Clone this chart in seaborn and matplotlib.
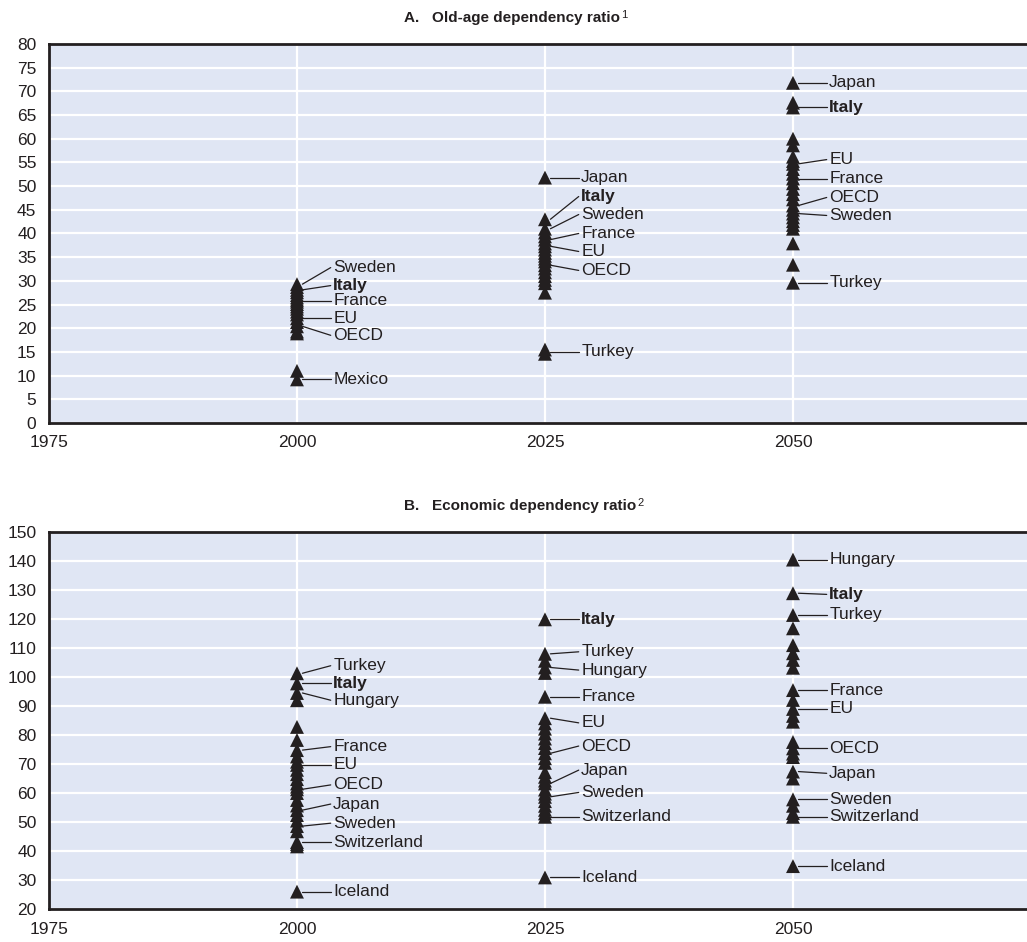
import matplotlib
matplotlib.use("Agg")
import matplotlib.pyplot as plt
import seaborn as sns
import pandas as pd

# ---- data -------------------------------------------------------------
years = [2000, 2025, 2050]

# Panel A: old-age dependency ratio, one value per country/aggregate
old_age_2000 = [29.3, 28.7, 28.1, 27.6, 27.0, 26.5, 26.0, 25.6, 25.1, 24.6,
                24.1, 23.5, 22.9, 22.1, 21.3, 20.4, 19.3, 18.9, 11.0, 9.2]
old_age_2025 = [51.8, 43.0, 41.0, 40.2, 39.4, 38.7, 37.9, 37.3, 36.6, 35.9,
                35.3, 34.7, 34.1, 33.3, 32.6, 31.8, 31.0, 30.2, 29.5, 27.5,
                15.5, 14.6]
old_age_2050 = [71.8, 67.6, 66.6, 60.0, 58.6, 56.2, 55.3, 54.7, 53.6, 52.6,
                51.6, 50.6, 49.4, 48.3, 47.2, 45.9, 45.0, 44.2, 43.4, 42.6,
                41.8, 41.0, 37.9, 33.4, 29.6]

# Panel B: economic dependency ratio
econ_2000 = [101.3, 97.8, 94.5, 92.0, 82.8, 78.3, 74.8, 72.6, 70.8, 69.7,
             68.0, 66.5, 64.8, 63.3, 62.2, 61.3, 60.0, 57.6, 55.7, 54.1,
             52.4, 50.5, 48.6, 46.8, 43.1, 42.4, 41.6, 26.0]
econ_2025 = [119.9, 108.0, 105.6, 103.3, 101.4, 93.2, 85.8, 84.0, 82.2, 80.5,
             78.8, 77.2, 75.5, 73.7, 72.0, 70.4, 67.2, 65.6, 64.3, 63.3,
             61.2, 59.8, 58.7, 57.2, 55.6, 54.2, 53.0, 51.8, 30.9]
econ_2050 = [140.5, 128.9, 121.4, 116.8, 111.0, 108.2, 105.9, 103.2, 95.5, 92.1,
             89.0, 86.6, 84.6, 77.6, 75.4, 73.6, 72.4, 67.4, 65.0, 57.8,
             55.6, 53.1, 51.8, 34.8]

# Labelled countries: (name, label height, value of the marker it points to)
old_age_labels = {
    2000: [("Sweden", 32.8, 29.3), ("Italy", 29.0, 28.1), ("France", 25.8, 25.8),
           ("EU", 22.1, 22.1), ("OECD", 18.5, 20.4), ("Mexico", 9.2, 9.2)],
    2025: [("Japan", 51.8, 51.8), ("Italy", 47.8, 43.0), ("Sweden", 44.0, 41.0),
           ("France", 40.0, 38.7), ("EU", 36.2, 37.3), ("OECD", 32.2, 33.3),
           ("Turkey", 15.0, 15.0)],
    2050: [("Japan", 71.8, 71.8), ("Italy", 66.6, 66.6), ("EU", 55.6, 54.7),
           ("France", 51.6, 51.6), ("OECD", 47.6, 45.9), ("Sweden", 43.8, 44.2),
           ("Turkey", 29.6, 29.6)],
}
econ_labels = {
    2000: [("Turkey", 103.9, 101.3), ("Italy", 97.8, 97.8), ("Hungary", 92.0, 94.5),
           ("France", 76.0, 74.8), ("EU", 69.7, 69.7), ("OECD", 62.8, 61.3),
           ("Japan", 56.2, 54.1), ("Sweden", 49.6, 48.6), ("Switzerland", 43.1, 43.1),
           ("Iceland", 26.0, 26.0)],
    2025: [("Italy", 119.9, 119.9), ("Turkey", 108.7, 108.0), ("Hungary", 102.4, 103.3),
           ("France", 93.2, 93.2), ("EU", 84.2, 85.8), ("OECD", 76.2, 73.7),
           ("Japan", 67.9, 63.3), ("Sweden", 60.2, 58.7), ("Switzerland", 51.8, 51.8),
           ("Iceland", 30.9, 30.9)],
    2050: [("Hungary", 140.5, 140.5), ("Italy", 128.5, 128.9), ("Turkey", 121.4, 121.4),
           ("France", 95.5, 95.5), ("EU", 89.0, 89.0), ("OECD", 75.4, 75.4),
           ("Japan", 66.8, 67.4), ("Sweden", 57.8, 57.8), ("Switzerland", 51.8, 51.8),
           ("Iceland", 34.8, 34.8)],
}

x_ticks = [1975, 2000, 2025, 2050]
old_age_ticks = list(range(0, 81, 5))
econ_ticks = list(range(20, 151, 10))

panel_titles = [("A.   Old-age dependency ratio", "1"),
                ("B.   Economic dependency ratio", "2")]

# ---- style ------------------------------------------------------------
sns.set_theme(style="white")
plt.rcParams["font.family"] = ["Liberation Sans Narrow", "Liberation Sans", "DejaVu Sans"]

DARK = "#231f20"
PANEL_BG = "#e0e6f4"
FS = 12.5

fig = plt.figure(figsize=(10.27, 9.42), dpi=100)
ax_a = fig.add_axes([0.0477, 0.5510, 0.9659, 0.4023])
ax_b = fig.add_axes([0.0477, 0.0350, 0.9659, 0.4002])


def to_frame(series):
    rows = []
    for yr, vals in zip(years, series):
        rows += [{"year": yr, "value": v} for v in vals]
    return pd.DataFrame(rows)


def draw_panel(ax, series, labels, ylim, yticks):
    df = to_frame(series)
    ax.set_facecolor(PANEL_BG)
    ax.grid(True, color="white", lw=1.6)
    ax.set_axisbelow(True)
    sns.scatterplot(data=df, x="year", y="value", marker="^", s=100,
                    color=DARK, edgecolor="none", linewidth=0,
                    ax=ax, zorder=3, legend=False)
    for yr, items in labels.items():
        for name, ly, target in items:
            ax.plot([yr + 0.55, yr + 3.4], [target, ly], color=DARK, lw=0.9, zorder=2)
            ax.text(yr + 3.65, ly, name, va="center", ha="left", fontsize=FS,
                    color=DARK, fontweight="bold" if name == "Italy" else "normal")
    ax.set_xlim(1975, 2075)
    ax.set_ylim(*ylim)
    ax.set_xticks(x_ticks)
    ax.set_yticks(yticks)
    ax.set_xlabel("")
    ax.set_ylabel("")
    ax.tick_params(direction="in", length=6, width=1.5, color=DARK,
                   labelsize=FS, labelcolor=DARK, pad=9)
    for side in ("left", "bottom", "top"):
        ax.spines[side].set_visible(True)
        ax.spines[side].set_color(DARK)
        ax.spines[side].set_linewidth(2)
    ax.spines["right"].set_visible(False)


draw_panel(ax_a, [old_age_2000, old_age_2025, old_age_2050], old_age_labels,
           (0, 80), old_age_ticks)
draw_panel(ax_b, [econ_2000, econ_2025, econ_2050], econ_labels,
           (20, 150), econ_ticks)

# panel titles with footnote markers
title_pos = [(512 / 1027, 1 - 18 / 942), (520 / 1027, 1 - 506 / 942)]
for (label, sup), (xc, yc) in zip(panel_titles, title_pos):
    t = fig.text(xc, yc, label, ha="center", va="center", fontsize=11,
                 fontweight="bold", color=DARK)
    ax_a.annotate(sup, xy=(1.0, 0.72), xycoords=t, xytext=(1, 0),
                  textcoords="offset points", ha="left", va="center",
                  fontsize=8, color=DARK, annotation_clip=False)

fig.savefig("out.png", dpi=100)
